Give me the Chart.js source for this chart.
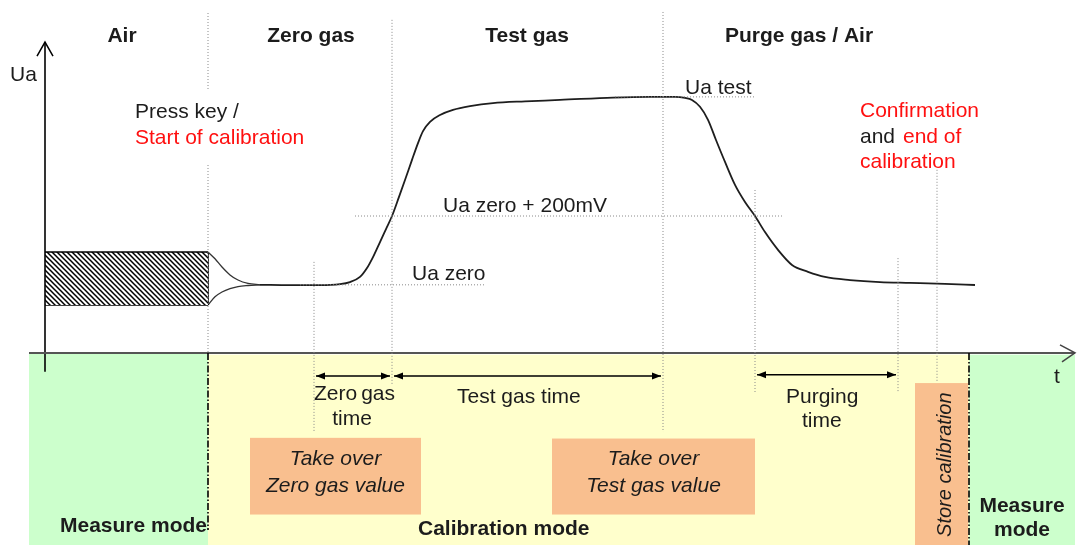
<!DOCTYPE html>
<html>
<head>
<meta charset="utf-8">
<script src="https://cdn.jsdelivr.net/npm/chart.js@4.4.1/dist/chart.umd.min.js"></script>
<style>
  html, body { margin: 0; padding: 0; background: #fff; }
  #wrap { width: 1078px; height: 545px; position: relative; }
</style>
</head>
<body>
<div id="wrap"><canvas id="calChart"></canvas></div>
<script>
// Calibration sequence: sensor output Ua (mV) over time t

const phaseNames = ['Air', 'Zero gas', 'Test gas', 'Purge gas / Air'];
const phaseLabelT = [38.5, 133, 241, 377];

// start, zero read, Ua zero+200mV, test end, purge start, purge end, store, measure again
const eventT = [81.5, 134.5, 173.5, 309, 355, 426.5, 446, 462];

const levelNames = ['Ua zero', 'Ua zero + 200mV', 'Ua test'];
const levelUa = [199, 400, 748];

// sensor signal
const curveT = [107.5, 122.5, 137.5, 147.5, 152.5, 157.5, 161, 164, 167.5, 170.5, 173.5, 177, 180,
  183.5, 186.5, 189, 192.5, 197.5, 204, 212.5, 224, 240, 257.5, 284, 302.5, 315, 320, 323.5,
  327.5, 331.5, 335.5, 340, 345, 350, 355, 360, 366.5, 373.5, 381.5, 390, 402.5, 417.5, 432.5, 450, 465];
const curveUa = [199, 198, 198, 201, 207, 222, 248, 280, 324, 362, 400, 456, 505,
  564, 613, 648, 675, 695, 710, 721, 730, 735, 739, 746, 748, 748, 745, 739,
  719, 681, 622, 558, 491, 441, 400, 353, 301, 257, 237, 222, 213, 207, 204.5, 201.5, 198.5];

// signal band during measure mode narrowing to Ua zero
const branchT = [81.5, 85, 88.5, 92.5, 96.5, 101.5, 107.5];
const upperUa = [295, 275, 251, 228, 213, 203, 199];
const lowerUa = [140, 164, 178, 188, 194, 197, 199];

const xMin = -22.5, xMax = 516.5, yMin = -561, yMax = 1031;

const FONT = '"Liberation Sans", Arial, sans-serif';
const DARK = '#1c1c1c';
const RED = '#ff1010';

function pts(xs, ys) { return xs.map((x, i) => ({ x: x, y: ys[i] })); }
function vSegs(list) {
  const out = [];
  list.forEach(s => out.push({ x: s[0], y: s[1] }, { x: s[0], y: s[2] }, { x: s[0], y: null }));
  return out;
}
function hSegs(list) {
  const out = [];
  list.forEach(s => out.push({ x: s[1], y: s[0] }, { x: s[2], y: s[0] }, { x: s[2], y: null }));
  return out;
}

const canvas = document.getElementById('calChart');
const c2d = canvas.getContext('2d');

// diagonal hatch for the measure-mode band
function hatchPattern() {
  const t = document.createElement('canvas');
  t.width = 5; t.height = 5;
  const g = t.getContext('2d');
  g.fillStyle = '#fff';
  g.fillRect(0, 0, 5, 5);
  g.strokeStyle = '#000';
  g.lineWidth = 1.5;
  g.beginPath();
  g.moveTo(-1, -1); g.lineTo(6, 6);
  g.moveTo(-1, 4); g.lineTo(1, 6);
  g.moveTo(4, -1); g.lineTo(6, 1);
  g.stroke();
  return c2d.createPattern(t, 'repeat');
}

const guideLines = vSegs([
  [eventT[0], 993, 768], [eventT[0], 549, 0], [eventT[1], 266, -231], [eventT[2], 973, -93],
  [eventT[3], 996, -231], [eventT[4], 476, -114], [eventT[5], 277, -114], [eventT[6], 535, -85]
]);
const levelLines = hSegs([
  [levelUa[0], 127.5, 220.5], [levelUa[1], 155, 368.5], [levelUa[2], 285, 355]
]);
const modeLines = vSegs([[eventT[0], 0, -517], [eventT[7], 0, -561]]);
const arrowY = [-67, -67, -64];
const arrowSpans = [[eventT[1], eventT[2]], [eventT[2], eventT[3]], [eventT[4], eventT[5]]];
const arrowLines = hSegs(arrowSpans.map((s, i) => [arrowY[i], s[0] + 1, s[1] - 1]));

const drawingPlugin = {
  id: 'calDrawing',
  beforeDraw(chart) {
    const ctx = chart.ctx;
    const X = v => chart.scales.x.getPixelForValue(v);
    const Y = v => chart.scales.y.getPixelForValue(v);
    const rect = (t0, t1, u0, u1, col) => {
      ctx.fillStyle = col;
      ctx.fillRect(X(t0), Y(u0), X(t1) - X(t0), Y(u1) - Y(u0));
    };
    ctx.save();
    ctx.fillStyle = '#fff';
    ctx.fillRect(0, 0, chart.width, chart.height);
    rect(-8, eventT[0], 0, yMin, '#ccffcc');
    rect(eventT[0], eventT[7], -5, yMin, '#ffffcc');
    rect(eventT[7], 515, -5, yMin, '#ccffcc');
    rect(102.5, 188, -248, -472, '#f9bf8f');
    rect(253.5, 355, -250, -472, '#f9bf8f');
    rect(435, 461.5, -88, yMin, '#f9bf8f');
    ctx.restore();
  },
  afterDraw(chart) {
    const ctx = chart.ctx;
    const X = v => chart.scales.x.getPixelForValue(v);
    const Y = v => chart.scales.y.getPixelForValue(v);
    const txt = (s, t, u, font, col, align) => {
      ctx.font = font;
      ctx.fillStyle = col || DARK;
      ctx.textAlign = align || 'left';
      ctx.textBaseline = 'alphabetic';
      ctx.fillText(s, X(t), Y(u));
    };
    const reg = '21px ' + FONT, bold = 'bold 21px ' + FONT, ital = 'italic 21px ' + FONT;
    ctx.save();

    // axis arrow tips
    ctx.strokeStyle = '#000';
    ctx.lineWidth = 1.5;
    ctx.beginPath();
    ctx.moveTo(X(0) - 8, Y(908) + 14); ctx.lineTo(X(0), Y(908)); ctx.lineTo(X(0) + 8, Y(908) + 14);
    ctx.stroke();
    ctx.strokeStyle = '#444';
    ctx.beginPath();
    ctx.moveTo(X(515) - 15, Y(0) - 8); ctx.lineTo(X(515), Y(0)); ctx.lineTo(X(515) - 13, Y(0) + 9);
    ctx.stroke();

    // double-headed time arrows
    ctx.fillStyle = '#000';
    const head = (t, u, dir) => {
      const x = X(t), y = Y(u);
      ctx.beginPath();
      ctx.moveTo(x, y); ctx.lineTo(x - dir * 9, y - 3.5); ctx.lineTo(x - dir * 9, y + 3.5);
      ctx.closePath(); ctx.fill();
    };
    arrowSpans.forEach((s, i) => { head(s[0] + 1, arrowY[i], -1); head(s[1] - 1, arrowY[i], 1); });

    // phase headers
    phaseNames.forEach((n, i) => txt(n, phaseLabelT[i], 907, bold, DARK, 'center'));

    txt('Ua', -17.5, 794, reg);
    txt('Press key /', 45, 686, reg);
    txt('Start of calibration', 45, 610, reg, RED);
    txt('Confirmation', 407.5, 689, reg, RED);
    txt('and', 407.5, 613, reg);
    txt('end of', 429, 613, reg, RED);
    txt('calibration', 407.5, 540, reg, RED);

    txt(levelNames[0], 183.5, levelUa[0] + 14, reg);
    txt(levelNames[1], 199, levelUa[1] + 12, reg);
    txt(levelNames[2], 320, levelUa[2] + 9, reg);

    txt('Zero', 134.5, -137, reg);
    txt('gas', 175, -137, reg, DARK, 'right');
    txt('time', 153.5, -210, reg, DARK, 'center');
    txt('Test gas time', 206, -146, reg);
    txt('Purging', 370.5, -146, reg);
    txt('time', 378.5, -216, reg);

    txt('Take over', 145.25, -327, ital, DARK, 'center');
    txt('Zero gas value', 145.25, -406, ital, DARK, 'center');
    txt('Take over', 304.25, -327, ital, DARK, 'center');
    txt('Test gas value', 304.25, -406, ital, DARK, 'center');

    txt('Measure mode', 7.5, -523, bold);
    txt('Calibration mode', 186.5, -532, bold);
    txt('Measure', 488.5, -464, bold, DARK, 'center');
    txt('mode', 488.5, -534, bold, DARK, 'center');
    txt('t', 506, -88, reg, DARK, 'center');

    ctx.translate(X(453), Y(-537.5));
    ctx.rotate(-Math.PI / 2);
    ctx.font = 'italic 20px ' + FONT;
    ctx.fillStyle = DARK;
    ctx.textAlign = 'left';
    ctx.fillText('Store calibration', 0, 0);
    ctx.restore();
  }
};

const pattern = hatchPattern();

new Chart(canvas, {
  type: 'line',
  data: {
    datasets: [
      { data: guideLines, borderColor: '#8a8a8a', borderWidth: 1, borderDash: [1, 2] },
      { data: levelLines, borderColor: '#8a8a8a', borderWidth: 1, borderDash: [1, 2] },
      { data: modeLines, borderColor: '#000', borderWidth: 1.6, borderDash: [7, 2, 1.5, 2] },
      { data: [{ x: -8, y: 0 }, { x: 515, y: 0 }], borderColor: '#555', borderWidth: 2 },
      { data: [{ x: 0, y: -55 }, { x: 0, y: 908 }], borderColor: '#000', borderWidth: 1.6 },
      { data: [{ x: 0, y: upperUa[0] }, { x: eventT[0], y: upperUa[0] }], borderColor: '#000', borderWidth: 1.6,
        fill: '+1', backgroundColor: pattern },
      { data: [{ x: 0, y: lowerUa[0] }, { x: eventT[0], y: lowerUa[0] }], borderColor: '#000', borderWidth: 1.6 },
      { data: [{ x: eventT[0], y: lowerUa[0] }, { x: eventT[0], y: upperUa[0] }], borderColor: '#000', borderWidth: 1.6 },
      { data: pts(branchT, upperUa), borderColor: '#333', borderWidth: 1.3, cubicInterpolationMode: 'monotone' },
      { data: pts(branchT, lowerUa), borderColor: '#333', borderWidth: 1.3, cubicInterpolationMode: 'monotone' },
      { data: pts(curveT, curveUa), borderColor: '#1e1e1e', borderWidth: 1.8, cubicInterpolationMode: 'monotone' },
      { data: arrowLines, borderColor: '#000', borderWidth: 1.5 }
    ]
  },
  options: {
    responsive: true,
    maintainAspectRatio: false,
    animation: false,
    events: [],
    layout: { autoPadding: false, padding: 0 },
    elements: { point: { radius: 0 }, line: { fill: false } },
    plugins: { legend: { display: false }, tooltip: { enabled: false } },
    scales: {
      x: { type: 'linear', min: xMin, max: xMax, display: false },
      y: { type: 'linear', min: yMin, max: yMax, display: false }
    }
  },
  plugins: [drawingPlugin]
});
</script>
</body>
</html>
